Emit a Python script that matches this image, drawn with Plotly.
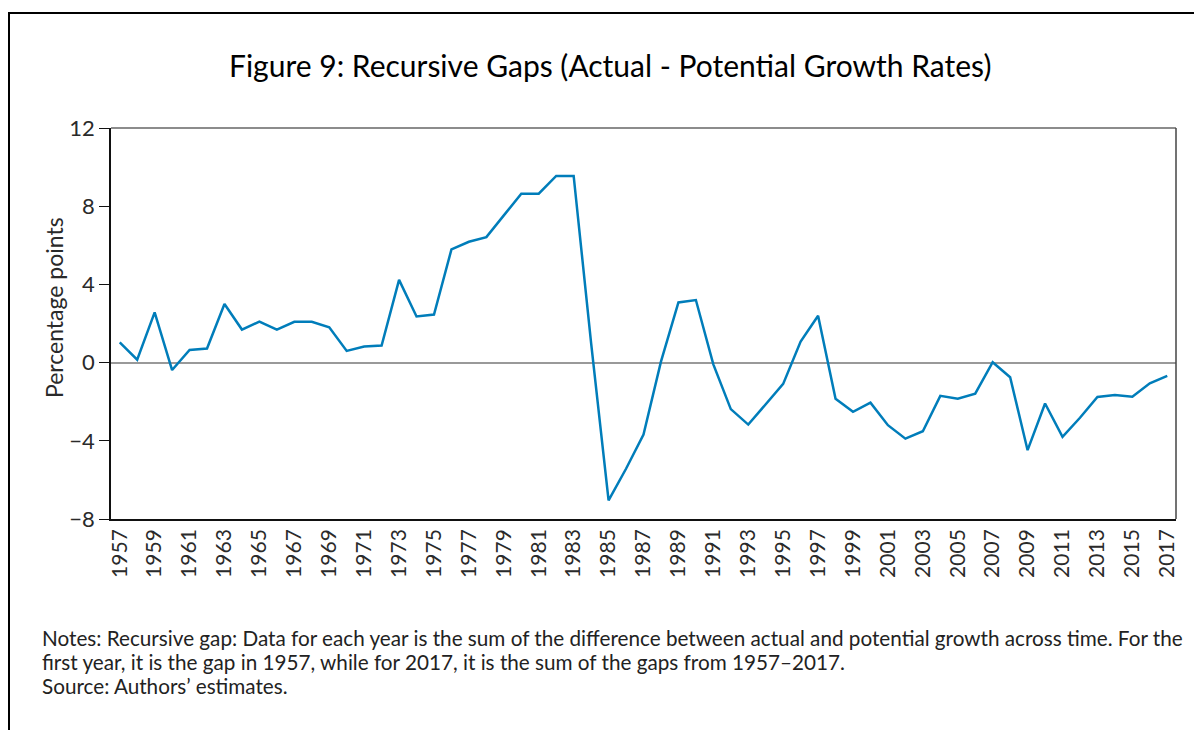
import plotly.graph_objects as go

years = list(range(1957, 2018))
gap = [1.03, 0.15, 2.57, -0.38, 0.65, 0.72, 3.0, 1.69, 2.1, 1.69,
       2.09, 2.09, 1.81, 0.6, 0.82, 0.87, 4.23, 2.36, 2.46, 5.79,
       6.18, 6.42, 7.53, 8.64, 8.64, 9.55, 9.55, 1.0, -7.05, -5.43,
       -3.68, 0.05, 3.08, 3.2, -0.09, -2.38, -3.17, -2.14, -1.09, 1.08,
       2.4, -1.85, -2.52, -2.05, -3.2, -3.89, -3.51, -1.7, -1.85, -1.59,
       0.02, -0.75, -4.48, -2.09, -3.8, -2.82, -1.76, -1.66, -1.75, -1.06,
       -0.68]
tick_years = years[::2]
tick_text = [str(y) for y in tick_years]
y_ticks = [-8, -4, 0, 4, 8, 12]

title = "Figure 9: Recursive Gaps (Actual - Potential Growth Rates)"
y_title = "Percentage points"
notes = [
    "Notes: Recursive gap: Data for each year is the sum of the difference between actual and potential growth across time. For the",
    "first year, it is the gap in 1957, while for 2017, it is the sum of the gaps from 1957\u20132017.",
    "Source: Authors\u2019 estimates.",
]

FONT = "Lato, 'Open Sans', sans-serif"
O = 8  # page body margin offset
W, H = 1202 - O, 730 - O
L, R, T, B = 111 - O, 1176 - O, 128 - O, 519 - O
pw, ph = R - L, B - T

def px(x):  # reference pixel -> paper
    return (x - O - L) / pw

def py(y):
    return (B - (y - O)) / ph

fig = go.Figure()
fig.add_trace(go.Scatter(x=years, y=gap, mode="lines",
                         line=dict(color="#007DBA", width=2.5),
                         showlegend=False, hoverinfo="x+y"))

fig.update_layout(
    width=W, height=H,
    margin=dict(l=L, r=W - R, t=T, b=H - B),
    paper_bgcolor="white", plot_bgcolor="white",
    font=dict(family=FONT, color="#222"),
    xaxis=dict(range=[1956.5, 2017.5], tickmode="array", tickvals=tick_years,
               ticktext=tick_text, tickangle=-90, showgrid=False, zeroline=False,
               showline=True, linecolor="#111", linewidth=1.5, ticks="",
               tickfont=dict(size=21, color="#2a2a2a", family=FONT)),
    yaxis=dict(range=[-8, 12], tickmode="array", tickvals=y_ticks, showgrid=False,
               zeroline=True, zerolinecolor="#999", zerolinewidth=1.5,
               showline=True, linecolor="#111", linewidth=1.5,
               ticks="outside", ticklen=10, tickcolor="#111", tickwidth=1,
               tickfont=dict(size=22, color="#2a2a2a", family=FONT)),
)

# top and right plot borders
fig.add_shape(type="line", xref="paper", yref="paper", x0=0, x1=1, y0=1, y1=1,
              line=dict(color="#666", width=1.5))
fig.add_shape(type="line", xref="paper", yref="paper", x0=1, x1=1, y0=0, y1=1,
              line=dict(color="#444", width=1.5))

# outer frame (top and left)
fig.add_shape(type="line", xref="paper", yref="paper", x0=px(9), x1=px(1215),
              y0=py(13), y1=py(13), line=dict(color="black", width=2))
fig.add_shape(type="line", xref="paper", yref="paper", x0=px(9), x1=px(9),
              y0=py(12), y1=py(740), line=dict(color="black", width=2))

fig.add_annotation(text=title, xref="paper", yref="paper", x=px(610), y=py(65),
                   xanchor="center", yanchor="middle", showarrow=False,
                   font=dict(size=30, color="black", family=FONT))

fig.add_annotation(text=y_title, xref="paper", yref="paper", x=px(54), y=py(308),
                   xanchor="center", yanchor="middle", showarrow=False, textangle=-90,
                   font=dict(size=23, color="#2a2a2a", family=FONT))

for i, line in enumerate(notes):
    fig.add_annotation(text=line, xref="paper", yref="paper", x=px(40), y=py(638 + 24 * i),
                       xanchor="left", yanchor="middle", showarrow=False, align="left",
                       font=dict(size=20.7, color="#222", family=FONT))

fig.write_html("out.html")
